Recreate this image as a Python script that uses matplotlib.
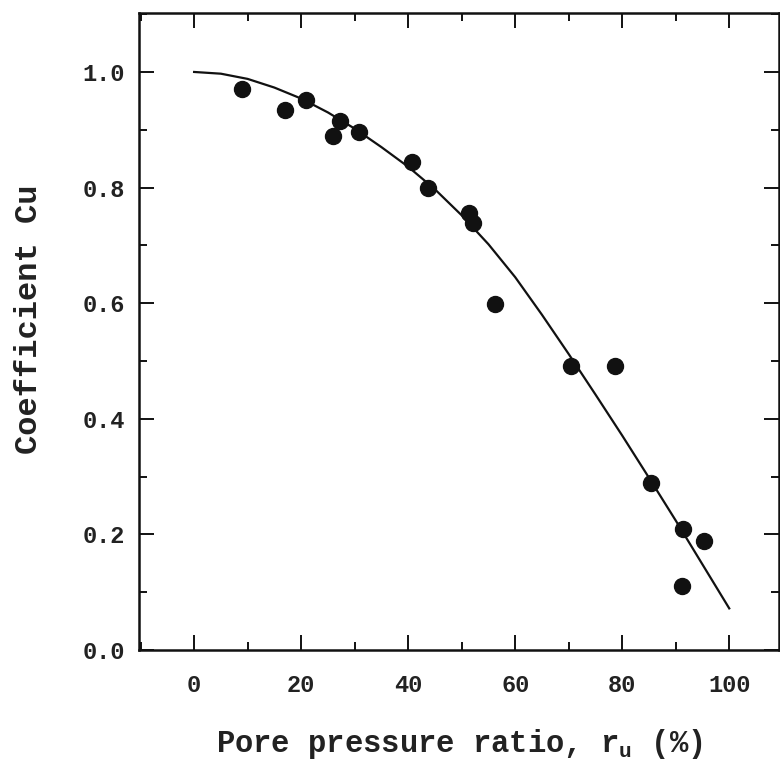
import matplotlib
matplotlib.use("Agg")
import matplotlib.pyplot as plt
from matplotlib.ticker import MultipleLocator, FormatStrFormatter

plt.rcParams['font.family'] = ['Liberation Mono', 'DejaVu Sans']
plt.rcParams['mathtext.fontset'] = 'custom'
plt.rcParams['mathtext.rm'] = 'Liberation Mono'
plt.rcParams['mathtext.it'] = 'Liberation Mono'
plt.rcParams['mathtext.bf'] = 'Liberation Mono:bold'

# Measured data points (pore pressure ratio %, coefficient Cu)
ru_pts = [8.9, 17.0, 20.9, 25.9, 27.2, 30.8, 40.8, 43.7, 51.4, 52.1,
          56.3, 70.4, 78.6, 85.4, 91.4, 91.2, 95.3]
cu_pts = [0.971, 0.935, 0.951, 0.889, 0.915, 0.896, 0.845, 0.799, 0.756, 0.739,
          0.598, 0.492, 0.492, 0.289, 0.210, 0.110, 0.189]

# Fitted curve
ru_curve = [0, 5, 10, 15, 20, 25, 30, 35, 40, 45, 50, 55, 60, 65, 70, 75, 80, 85, 90, 95, 100]
cu_curve = [1.000, 0.997, 0.988, 0.973, 0.954, 0.930, 0.902, 0.870, 0.836, 0.797,
            0.752, 0.702, 0.645, 0.580, 0.512, 0.442, 0.371, 0.298, 0.224, 0.148, 0.072]

xticks = [0, 20, 40, 60, 80, 100]
yticks = [0.0, 0.2, 0.4, 0.6, 0.8, 1.0]

fig = plt.figure(figsize=(7.8, 7.7), dpi=100)
ax = fig.add_axes([139/780, 1 - 650/770, (779 - 139)/780, (650 - 13)/770])

ax.plot(ru_curve, cu_curve, color='#111111', lw=1.6, zorder=2)
ax.plot(ru_pts, cu_pts, 'o', color='#111111', markersize=11.5, zorder=3)

ax.set_xlim(-10.3, 109.3)
ax.set_ylim(0, 1.102)

ax.set_xticks(xticks)
ax.set_yticks(yticks)
ax.xaxis.set_minor_locator(MultipleLocator(10))
ax.yaxis.set_minor_locator(MultipleLocator(0.1))
ax.yaxis.set_major_formatter(FormatStrFormatter('%.1f'))

ax.tick_params(which='both', direction='in', top=True, right=True, width=1.4, color='#111111')
ax.tick_params(which='major', length=11)
ax.tick_params(which='minor', length=6)
ax.tick_params(axis='x', which='major', labelsize=17, pad=17)
ax.tick_params(axis='y', which='major', labelsize=17, pad=10)
for lab in ax.get_xticklabels() + ax.get_yticklabels():
    lab.set_fontweight('bold')
    lab.set_color('#222222')

for s in ax.spines.values():
    s.set_linewidth(1.8)
    s.set_color('#111111')

ax.set_xlabel('Pore pressure ratio, r$_{\\mathbf{u}}$ (%)', fontsize=22, labelpad=22,
              color='#222222', fontweight='bold')
ax.set_ylabel('Coefficient Cu', fontsize=23, color='#222222', fontweight='bold')
ax.yaxis.set_label_coords(-0.148, 0.52)

fig.savefig('out.png', dpi=100)
